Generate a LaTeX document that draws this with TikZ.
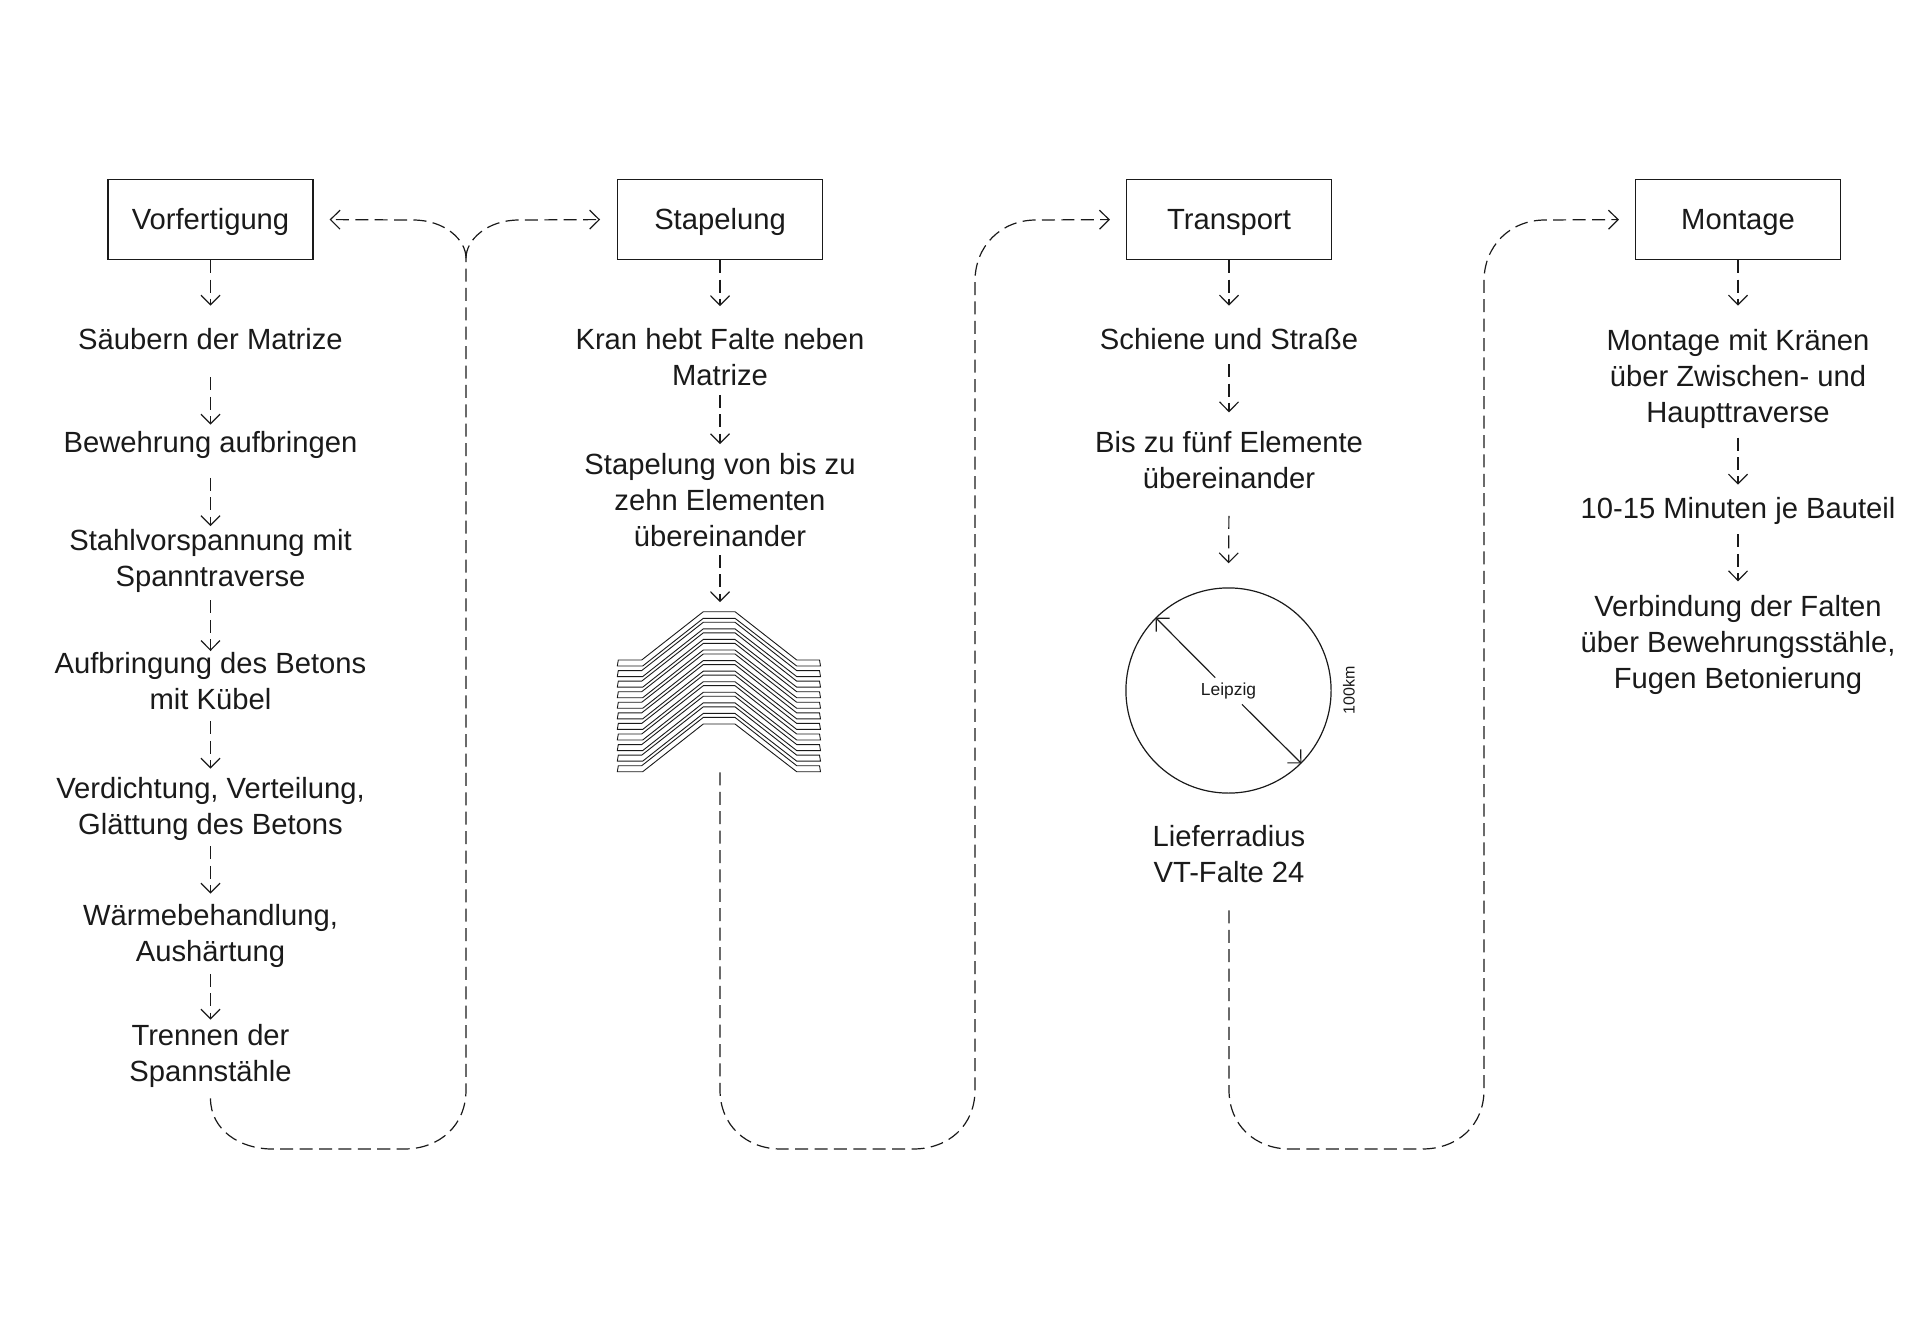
\documentclass[tikz,border=0pt]{standalone}
\usepackage{fontspec}
\setmainfont{Liberation Sans}
\usetikzlibrary{arrows.meta,calc}
\definecolor{ink}{HTML}{1A1A1A}
\tikzset{
  x=0.5pt,y=-0.5pt,
  box/.style={draw=ink,line width=0.6pt,minimum width=102.5pt,minimum height=40pt,inner sep=0pt,font=\fontsize{14.6}{18}\selectfont,text=ink},
  one/.style={inner sep=0pt,minimum height=18pt,align=center,font=\fontsize{14.6}{18}\selectfont,text=ink},
  two/.style={one,minimum height=36pt},
  three/.style={one,minimum height=54pt},
  flow/.style={draw=ink,line width=0.6pt,dash pattern=on 6.5pt off 3.2pt,-{Straight Barb[length=4.8pt,width=9.5pt,line width=0.6pt]}},
  route/.style={draw=ink,line width=0.6pt,dash pattern=on 6.5pt off 3.2pt},
  radius line/.style={draw=ink,line width=0.6pt,-{Straight Barb[length=4.8pt,width=9.5pt,line width=0.6pt]}},
  ply/.style={draw=ink,line width=0.45pt},
}
\newcommand{\conn}[4]{\draw[flow,shorten <=#3*0.5pt,shorten >=#4*0.5pt] (#1.south) -- (#2.north);}
\newcommand{\hdr}[1]{\raisebox{-5pt}[0pt][0pt]{#1}}
\begin{document}
\begin{tikzpicture}
\useasboundingbox (0,0) rectangle (1920,1322);
% headers
\node[box] (b1) at (210.5,219.5) {\hdr{Vorfertigung}};
\node[box] (b2) at (720,219.5) {\hdr{Stapelung}};
\node[box] (b3) at (1229,219.5) {\hdr{Transport}};
\node[box] (b4) at (1738,219.5) {\hdr{Montage}};
% column 1
\node[one] (a1) at (210.5,339.5) {Säubern der Matrize};
\node[one] (a2) at (210.5,444.7) {Bewehrung aufbringen};
\node[two] (a3) at (210.5,561.4) {Stahlvorspannung mit\\Spanntraverse};
\node[two] (a4) at (210.5,681.2) {Aufbringung des Betons\\mit Kübel};
\node[two] (a5) at (210.5,808.7) {Verdichtung, Verteilung,\\Glättung des Betons};
\node[two] (a6) at (210.5,935.5) {Wärmebehandlung,\\Aushärtung};
\node[two] (a7) at (210.5,1056) {Trennen der\\Spannstähle};
\conn{b1}{a1}{0}{15.5}
\conn{a1}{a2}{19.5}{1.7}
\conn{a2}{a3}{14.8}{-1.1}
\conn{a3}{a4}{2.6}{-6.2}
\conn{a4}{a5}{3.8}{3.7}
\conn{a5}{a6}{1.3}{5.5}
\conn{a6}{a7}{2}{0}
% column 2
\node[two] (c1) at (720,357.5) {Kran hebt Falte neben\\Matrize};
\node[three] (c2) at (720,500) {Stapelung von bis zu\\zehn Elementen\\übereinander};
\node[inner sep=0pt,minimum width=101.5pt,minimum height=80pt] (stack) at (720,692) {};
\foreach \i in {0,...,10}{
  \draw[ply,yshift=-\i*5.285pt] (618.3,660) -- (641.7,660) -- (703.3,611.7) -- (735,611.7) -- (796.7,660) -- (819.5,660) -- (820.5,666) -- (796.7,666) -- (735,618.3) -- (703.3,618.3) -- (642.7,666) -- (617.3,666) -- cycle;
}
\conn{b2}{c1}{0}{15}
\conn{c1}{c2}{1}{1.4}
\conn{c2}{stack}{0.6}{9.5}
% column 3
\node[one] (d1) at (1229,339.5) {Schiene und Straße};
\node[two] (d2) at (1229,460) {Bis zu fünf Elemente\\übereinander};
\node[circle,draw=ink,line width=0.6pt,minimum size=102.6pt,inner sep=0pt] (ring) at (1228.5,690.5) {};
\node[inner sep=0pt,minimum width=27.5pt,minimum height=13pt,font=\fontsize{8.7}{10}\selectfont,text=ink] (city) at (1228.5,691) {Leipzig};
\node[inner sep=0pt,rotate=90,font=\fontsize{8}{10}\selectfont,text=ink] (dist) at (1349,690) {100km};
\draw[radius line] (city) -- (ring.135);
\draw[radius line] (city) -- (ring.-45);
\node[two] (d3) at (1229,854) {Lieferradius\\VT-Falte 24};
\conn{b3}{d1}{0}{15.5}
\conn{d1}{d2}{6.2}{11.3}
\conn{d2}{ring}{19.5}{24}
% column 4
\node[three] (e1) at (1738,378.7) {Montage mit Kränen\\über Zwischen- und\\Haupttraverse};
\node[one] (e2) at (1738,510.7) {10-15 Minuten je Bauteil};
\node[three] (e3) at (1738,644.7) {Verbindung der Falten\\über Bewehrungsstähle,\\Fugen Betonierung};
\conn{b4}{e1}{0}{18.7}
\conn{e1}{e2}{4.5}{7.7}
\conn{e2}{e3}{5.3}{9}
% long routes
\coordinate (bus) at (466,258);
\draw[route] (a7.south) ++(0,6) .. controls (210.5,1130) and (240,1149) .. (272,1149) -- (404,1149) .. controls (440,1149) and (466,1125) .. (466,1090) -- (bus);
\draw[flow,shorten >=8pt] (bus) .. controls (466,240) and (445,220) .. (413,220) -- (b1.east);
\draw[flow,shorten >=8.4pt] (bus) .. controls (466,240) and (487,220) .. (519,220) -- (b2.west);
\draw[flow,shorten >=8pt] (stack.south) -- (720,1090) .. controls (720,1125) and (746,1149) .. (781,1149) -- (913,1149) .. controls (949,1149) and (975,1125) .. (975,1090) -- (975,281) .. controls (975,246) and (1001,220) .. (1036,220) -- (b3.west);
\draw[flow,shorten >=8pt] ($(d3.south)+(0,20)$) -- (1229,1090) .. controls (1229,1125) and (1255,1149) .. (1290,1149) -- (1422,1149) .. controls (1458,1149) and (1484,1125) .. (1484,1090) -- (1484,281) .. controls (1484,246) and (1510,220) .. (1545,220) -- (b4.west);
\end{tikzpicture}
\end{document}
